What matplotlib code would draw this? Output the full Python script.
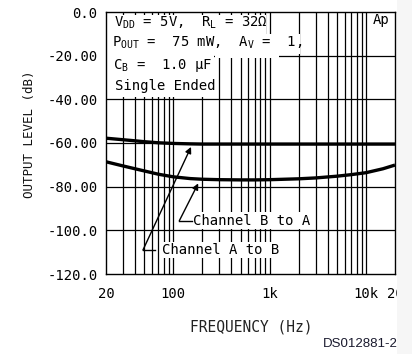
import matplotlib
matplotlib.use("Agg")
import matplotlib.pyplot as plt
from matplotlib.patches import Rectangle

# ---- data ----
freq_hz = [20, 30, 40, 50, 70, 100, 150, 200, 300, 500, 700, 1000,
           2000, 3000, 5000, 7000, 10000, 15000, 20000]
ch_a_to_b_db = [-57.8, -58.5, -59.0, -59.4, -59.9, -60.2, -60.4, -60.5, -60.5,
                -60.5, -60.5, -60.5, -60.5, -60.5, -60.5, -60.5, -60.5, -60.5, -60.5]
ch_b_to_a_db = [-68.6, -70.5, -71.8, -72.8, -74.3, -75.5, -76.3, -76.6, -76.8,
                -76.9, -76.9, -76.8, -76.4, -76.0, -75.2, -74.5, -73.6, -71.8, -70.1]
y_ticks = [0, -20, -40, -60, -80, -100, -120]
y_tick_labels = ["0.0", "-20.00", "-40.00", "-60.00", "-80.00", "-100.0", "-120.0"]
x_ticks = [20, 100, 1000, 10000, 20000]
x_tick_labels = ["20", "100", "1k", "10k", "20"]

MONO = "DejaVu Sans Mono"
plt.rcParams["font.family"] = [MONO, "DejaVu Sans"]
plt.rcParams["mathtext.fontset"] = "custom"
plt.rcParams["mathtext.rm"] = MONO
plt.rcParams["mathtext.it"] = MONO + ":italic"

W, H = 412, 354
fig = plt.figure(figsize=(W / 100, H / 100), dpi=100)
L, R, T, B = 106, 395, 12, 274
ax = fig.add_axes([L / W, (H - B) / H, (R - L) / W, (B - T) / H])

ax.set_xscale("log")
ax.set_xlim(20, 20000)
ax.set_ylim(-120, 0)

# grid
minor = [m * 10 ** e for e in range(1, 5) for m in range(2, 10)]
minor = [v for v in minor if 20 < v < 20000]
for v in minor + [100, 1000, 10000]:
    ax.axvline(v, color="black", lw=0.9, zorder=1)
for v in y_ticks[1:-1]:
    ax.axhline(v, color="black", lw=0.9, zorder=1)

ax.plot(freq_hz, ch_a_to_b_db, color="black", lw=2.4, zorder=3, solid_capstyle="butt")
ax.plot(freq_hz, ch_b_to_a_db, color="black", lw=2.4, zorder=3, solid_capstyle="butt")

for s in ax.spines.values():
    s.set_color("black")
    s.set_linewidth(1.0)
    s.set_zorder(5)

ax.set_yticks(y_ticks)
ax.set_yticklabels(y_tick_labels)
ax.set_xticks(x_ticks)
ax.set_xticklabels(x_tick_labels)
ax.xaxis.set_minor_locator(matplotlib.ticker.NullLocator())
ax.tick_params(axis="y", length=0, pad=6, labelsize=10)
ax.tick_params(axis="x", length=0, pad=9, labelsize=10)

# white boxes behind the condition text (axes fraction coords from pixel geometry)
def px_box(x0, y0, x1, y1):
    ax.add_patch(Rectangle(((x0 - L) / (R - L), (B - y1) / (B - T)),
                           (x1 - x0) / (R - L), (y1 - y0) / (B - T),
                           transform=ax.transAxes, facecolor="white",
                           edgecolor="none", zorder=2))

px_box(107, 15, 266, 34)
px_box(107, 34, 300, 54)
px_box(215, 54, 279, 58)
px_box(107, 54, 214, 97)

def px_text(x, y, s, **kw):
    ax.text((x - L) / (R - L), (B - y) / (B - T), s, transform=ax.transAxes,
            ha="left", va="center", fontsize=10, zorder=6, **kw)

px_text(114, 23, r"V$_{\rm DD}$ = 5V,  R$_{\rm L}$ = 32Ω")
px_text(112, 43, r"P$_{\rm OUT}$ =  75 mW,  A$_{\rm V}$ =  1,")
px_text(113, 65, r"C$_{\rm B}$ =  1.0 μF")
px_text(115, 86, "Single Ended")
px_text(373, 20, "Ap")

# curve labels with leaders
bbox = dict(facecolor="white", edgecolor="none", pad=1.0)
ax.text(76, -109, "Channel A to B", ha="left", va="center", fontsize=10,
        bbox=bbox, zorder=6)
ax.text(160, -95.6, "Channel B to A", ha="left", va="center", fontsize=10,
        bbox=bbox, zorder=6)
ax.plot([64.5, 48.4], [-109, -109], color="black", lw=1.0, zorder=6)
ax.plot([155, 115.4], [-95.6, -95.6], color="black", lw=1.0, zorder=6)
ax.annotate("", xy=(152.7, -61.8), xytext=(48.4, -109),
            arrowprops=dict(arrowstyle="-|>", color="black", lw=1.0,
                            mutation_scale=9, shrinkA=0, shrinkB=0), zorder=6)
ax.annotate("", xy=(181.3, -78.5), xytext=(115.4, -95.6),
            arrowprops=dict(arrowstyle="-|>", color="black", lw=1.0,
                            mutation_scale=9, shrinkA=0, shrinkB=0), zorder=6)

# axis titles
fig.text(30 / W, 1 - 134 / H, "OUTPUT LEVEL (dB)", rotation=90,
         ha="center", va="center", fontsize=9, color="#111111")
fig.text(251 / W, 1 - 327 / H, "FREQUENCY (Hz)", ha="center", va="center",
         fontsize=10.5, color="#222222")
fig.text(323 / W, 1 - 344 / H, "DS012881-2", ha="left", va="center",
         fontsize=9.5, family="Liberation Sans", color="#1a1a2e")

# cropped right edge strip
fig.patches.append(Rectangle((397 / W, 0), (W - 397) / W, 1, transform=fig.transFigure,
                             facecolor="#f6f6f6", edgecolor="none", zorder=20))

fig.savefig("out.png", dpi=100, facecolor="white")
